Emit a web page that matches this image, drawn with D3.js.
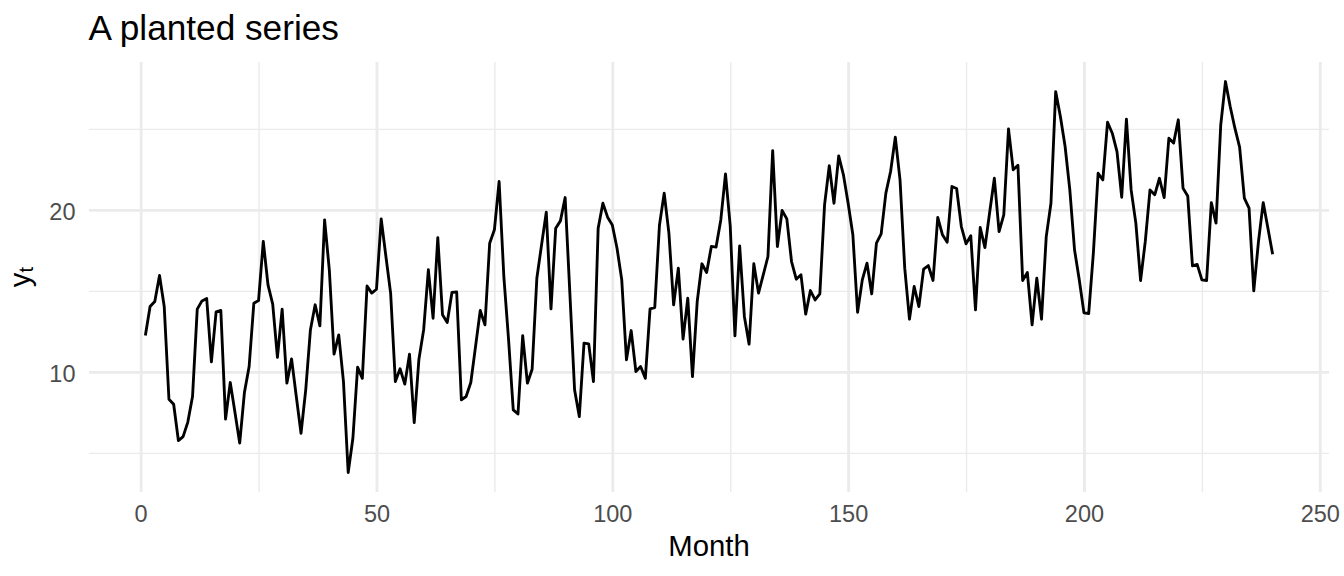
<!DOCTYPE html>
<html><head><meta charset="utf-8">
<script src="https://cdn.jsdelivr.net/npm/d3@7"></script>
<style>
html,body{margin:0;padding:0;background:#fff;}
svg text{font-family:"Liberation Sans",Arial,Helvetica,sans-serif;}
</style></head><body>
<svg id="chart" width="1344" height="576"></svg>
<script>
// ---- data ----
const values = [
12.24,14.03,14.34,15.95,14.03,8.31,8.0,5.76,6.0,6.9,
8.48,13.87,14.38,14.53,10.62,13.7,13.79,7.08,9.34,7.49,
5.6,8.72,10.33,14.24,14.4,18.05,15.37,14.18,10.9,13.87,
9.3,10.8,8.48,6.21,8.89,12.6,14.14,12.84,19.38,16.3,
11.09,12.28,9.4,3.79,5.9,10.29,9.6,15.3,14.86,15.1,
19.44,17.12,14.86,9.4,10.19,9.24,11.09,6.87,10.78,12.59,
16.3,13.31,18.29,13.52,13.05,14.9,14.94,8.27,8.48,9.34,
11.56,13.79,12.9,17.94,18.77,21.75,15.9,12.0,7.65,7.4,
12.24,9.3,10.16,15.78,17.84,19.86,13.89,18.87,19.32,20.76,
14.86,8.89,7.24,11.77,11.73,9.4,18.87,20.41,19.55,19.07,
17.63,15.68,10.74,12.55,10.02,10.33,9.6,13.89,13.97,19.07,
21.03,18.56,14.14,16.4,12.02,14.55,9.71,14.34,16.67,16.13,
17.74,17.7,19.38,22.22,19.01,12.22,17.78,13.42,11.71,16.67,
14.86,15.99,17.12,23.66,17.74,19.96,19.44,16.81,15.72,15.99,
13.56,15.02,14.44,14.81,20.31,22.72,20.41,23.33,22.16,20.41,
18.46,13.68,15.68,16.71,14.81,17.94,18.52,21.03,22.37,24.49,
21.85,16.4,13.25,15.27,14.03,16.34,16.56,15.64,19.53,18.46,
18.0,21.44,21.32,18.97,17.9,18.4,13.83,18.91,17.67,19.84,
21.95,18.66,19.69,25.0,22.47,22.76,15.64,16.13,12.9,15.78,
13.25,18.35,20.41,27.3,25.76,23.91,21.23,17.53,15.68,13.64,
13.6,17.37,22.26,21.85,25.41,24.73,23.6,20.78,25.6,21.23,
19.18,15.64,18.05,21.23,20.93,21.95,20.76,24.42,24.12,25.56,
21.34,20.86,16.54,16.63,15.68,15.64,20.45,19.18,25.25,27.92,
26.38,25.04,23.87,20.72,20.1,15.0,18.05,20.45,18.87,17.26
];
const months = d3.range(1, values.length + 1);
const xTicks = [0, 50, 100, 150, 200, 250];
const xMinorTicks = [25, 75, 125, 175, 225];
const yTicks = [10, 20];
const yMinorTicks = [5, 15, 25];
const titleText = "A planted series";
const xLabel = "Month";
const yLabelMain = "y";
const yLabelSub = "t";

// ---- layout ----
const W = 1344, H = 576;
const m = {left: 89, right: W - 1329, top: 62, bottom: H - 492};
const pw = W - m.left - m.right, ph = H - m.top - m.bottom;
const grid = "#EBEBEB";

const svg = d3.select("#chart");
svg.append("rect").attr("width", W).attr("height", H).attr("fill", "#fff");

const xExt = d3.extent(months), yExt = d3.extent(values);
const xPad = (xExt[1] - xExt[0]) * 0.05, yPad = (yExt[1] - yExt[0]) * 0.05;
const x = d3.scaleLinear().domain([xExt[0] - xPad, xExt[1] + xPad]).range([m.left, W - m.right]);
const y = d3.scaleLinear().domain([yExt[0] - yPad, yExt[1] + yPad]).range([H - m.bottom, m.top]);

function gridX(ticks, w) {
  const g = svg.append("g").attr("transform", `translate(0,${H - m.bottom})`)
    .call(d3.axisBottom(x).tickValues(ticks).tickSize(-ph).tickFormat(""));
  g.select(".domain").remove();
  g.selectAll("line").attr("stroke", grid).attr("stroke-width", w);
}
function gridY(ticks, w) {
  const g = svg.append("g").attr("transform", `translate(${m.left},0)`)
    .call(d3.axisLeft(y).tickValues(ticks).tickSize(-pw).tickFormat(""));
  g.select(".domain").remove();
  g.selectAll("line").attr("stroke", grid).attr("stroke-width", w);
}
gridX(xMinorTicks, 1.42);
gridY(yMinorTicks, 1.42);
gridX(xTicks, 2.85);
gridY(yTicks, 2.85);

// line
const line = d3.line().x((d, i) => x(months[i])).y(d => y(d));
svg.append("path").datum(values)
  .attr("d", line)
  .attr("fill", "none")
  .attr("stroke", "#000")
  .attr("stroke-width", 2.85)
  .attr("stroke-linejoin", "round");

// axis labels
const ax = svg.append("g").attr("transform", `translate(0,${H - m.bottom})`)
  .call(d3.axisBottom(x).tickValues(xTicks).tickSize(0).tickPadding(13).tickFormat(d3.format("d")));
ax.select(".domain").remove();
ax.selectAll("text").attr("font-size", 23.5).attr("fill", "#4D4D4D")
  .attr("font-family", '"Liberation Sans",Arial,Helvetica,sans-serif');

const ay = svg.append("g").attr("transform", `translate(${m.left},0)`)
  .call(d3.axisLeft(y).tickValues(yTicks).tickSize(0).tickPadding(13.5).tickFormat(d3.format("d")));
ay.select(".domain").remove();
ay.selectAll("text").attr("font-size", 23.5).attr("fill", "#4D4D4D").attr("dy", "0.39em")
  .attr("font-family", '"Liberation Sans",Arial,Helvetica,sans-serif');

// titles
svg.append("text").attr("x", 88.5).attr("y", 40)
  .attr("font-size", 35.2).attr("fill", "#000").text(titleText);

svg.append("text").attr("x", m.left + pw / 2).attr("y", 556)
  .attr("text-anchor", "middle").attr("font-size", 29.3).attr("fill", "#000").text(xLabel);

const yt = svg.append("text")
  .attr("transform", `translate(30,${m.top + ph / 2}) rotate(-90)`)
  .attr("text-anchor", "middle").attr("font-size", 29.3).attr("fill", "#000");
yt.append("tspan").text(yLabelMain);
yt.append("tspan").attr("font-size", 20.5).attr("dy", 3).text(yLabelSub);
</script>
</body></html>
